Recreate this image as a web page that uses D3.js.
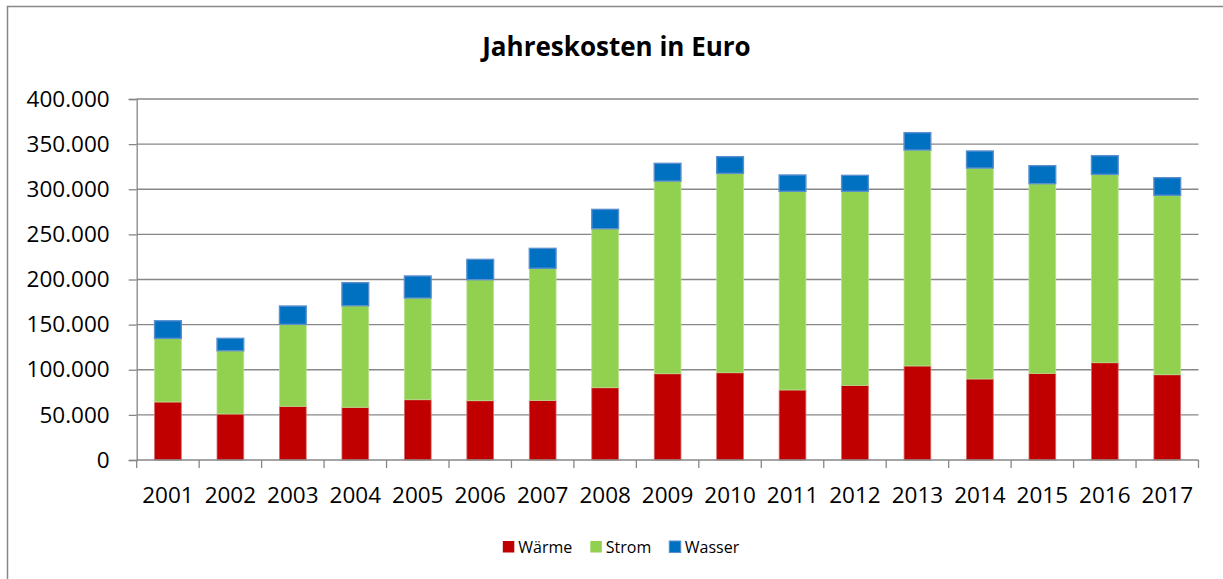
<!DOCTYPE html>
<html lang="de">
<head>
<meta charset="utf-8">
<title>Jahreskosten in Euro</title>
<script src="https://cdn.jsdelivr.net/npm/d3@7"></script>
<style>
  html, body { margin: 0; padding: 0; background: #fff; }
  svg { display: block; }
  text { font-family: "Open Sans", "Liberation Sans", sans-serif; fill: #000; }
</style>
</head>
<body>
<svg id="chart" width="1223" height="579"></svg>
<script>
// Jahre
const years = ["2001","2002","2003","2004","2005","2006","2007","2008","2009",
               "2010","2011","2012","2013","2014","2015","2016","2017"];

// Kosten je Sparte in Euro
const waerme = [64300, 51000, 59500, 58400, 66800, 65700, 66100, 80100, 95600,
                96700, 77600, 82700, 104200, 89800, 96000, 107800, 94500];
const strom  = [70500, 70100, 90800, 112600, 112700, 134100, 146300, 176200, 213500,
                220900, 220100, 215000, 239300, 233700, 210200, 208700, 198800];
const wasser = [19500, 13700, 20300, 25500, 24400, 22500, 22100, 21400, 19600,
                18500, 18100, 17700, 19200, 18900, 19900, 20700, 19500];

// Achsenbeschriftung
const yTicks = [0, 50000, 100000, 150000, 200000, 250000, 300000, 350000, 400000];

const seriesNames = ["Wärme", "Strom", "Wasser"];
const seriesFill = ["#C00000", "#92D050", "#0070C0"];
const seriesEdge = ["#d9686a", "#b9e08f", "#5a8fcf"];

const title = "Jahreskosten in Euro";

const de = d3.formatLocale({ decimal: ",", thousands: ".", grouping: [3], currency: ["", " €"] });
const fmt = de.format(",.0f");

const svg = d3.select("#chart");
const W = 1223, H = 579;
const plot = { left: 136.7, right: 1198.5, top: 99, bottom: 460 };
const axisColor = "#878787";

// Rahmen des Diagramms
svg.append("rect")
  .attr("x", 7.5).attr("y", 6.5)
  .attr("width", W + 20).attr("height", H + 20)
  .attr("fill", "#fff").attr("stroke", axisColor).attr("stroke-width", 1.5);

// Titel
svg.append("text")
  .attr("x", 616.5).attr("y", 56)
  .attr("text-anchor", "middle")
  .attr("font-size", 26).attr("font-weight", 700)
  .text(title);

const x = d3.scaleBand()
  .domain(years)
  .range([plot.left, plot.right])
  .paddingInner(0.572)
  .paddingOuter(0.286);

const y = d3.scaleLinear()
  .domain([0, 400000])
  .range([plot.bottom, plot.top]);

// Gitterlinien
svg.append("g")
  .selectAll("line")
  .data(yTicks.filter(t => t > 0))
  .join("line")
  .attr("x1", plot.left).attr("x2", plot.right)
  .attr("y1", d => y(d)).attr("y2", d => y(d))
  .attr("stroke", axisColor).attr("stroke-width", 1.3);

// Y-Achse
const yAxis = svg.append("g")
  .attr("transform", `translate(${plot.left},0)`)
  .call(d3.axisLeft(y).tickValues(yTicks).tickFormat(fmt).tickSize(8).tickPadding(19));
yAxis.select(".domain").attr("stroke", axisColor).attr("stroke-width", 1.3);
yAxis.selectAll(".tick line").attr("stroke", axisColor).attr("stroke-width", 1.3);
yAxis.selectAll(".tick text")
  .attr("font-size", 22.5)
  .attr("font-family", "'Open Sans', sans-serif")
  .attr("fill", "#000");

// Gestapelte Balken
const table = years.map((yr, i) => ({ year: yr, "Wärme": waerme[i], "Strom": strom[i], "Wasser": wasser[i] }));
const stack = d3.stack().keys(seriesNames)(table);

svg.append("g")
  .selectAll("g")
  .data(stack)
  .join("g")
  .attr("fill", (d, i) => seriesFill[i])
  .attr("stroke", (d, i) => seriesEdge[i])
  .attr("stroke-width", (d, i) => i === 2 ? 1.4 : 0.8)
  .selectAll("rect")
  .data(d => d)
  .join("rect")
  .attr("x", d => x(d.data.year))
  .attr("width", x.bandwidth())
  .attr("y", d => y(d[1]))
  .attr("height", d => y(d[0]) - y(d[1]));

// X-Achse mit Teilstrichen an den Kategoriegrenzen
const xAxisG = svg.append("g");
xAxisG.append("line")
  .attr("x1", plot.left).attr("x2", plot.right)
  .attr("y1", plot.bottom).attr("y2", plot.bottom)
  .attr("stroke", axisColor).attr("stroke-width", 1.3);
const step = x.step();
const bounds = d3.range(years.length + 1).map(i => plot.left + i * step);
xAxisG.selectAll("line.tk")
  .data(bounds)
  .join("line")
  .attr("class", "tk")
  .attr("x1", d => d).attr("x2", d => d)
  .attr("y1", plot.bottom).attr("y2", plot.bottom + 8)
  .attr("stroke", axisColor).attr("stroke-width", 1.3);
xAxisG.selectAll("text")
  .data(years)
  .join("text")
  .attr("x", d => x(d) + x.bandwidth() / 2)
  .attr("y", 503)
  .attr("text-anchor", "middle")
  .attr("font-size", 22.5)
  .text(d => d);

// Legende
const legend = svg.append("g");
const items = legend.selectAll("g")
  .data(seriesNames)
  .join("g");
items.append("rect")
  .attr("width", 11.5).attr("height", 11.5)
  .attr("y", 541)
  .attr("fill", (d, i) => seriesFill[i])
  .attr("stroke", (d, i) => i === 2 ? seriesEdge[i] : "none")
  .attr("stroke-width", 1);
items.append("text")
  .attr("x", 15.5)
  .attr("y", 552.5)
  .attr("font-size", 16)
  .text(d => d);
let cx = 0;
const widths = [];
items.each(function () {
  const w = d3.select(this).select("text").node().getComputedTextLength() + 15.5;
  widths.push(w);
});
const gap = 18;
const total = d3.sum(widths) + gap * (widths.length - 1);
cx = 621 - total / 2;
items.attr("transform", (d, i) => {
  const tx = cx;
  cx += widths[i] + gap;
  return `translate(${tx},0)`;
});
</script>
</body>
</html>
